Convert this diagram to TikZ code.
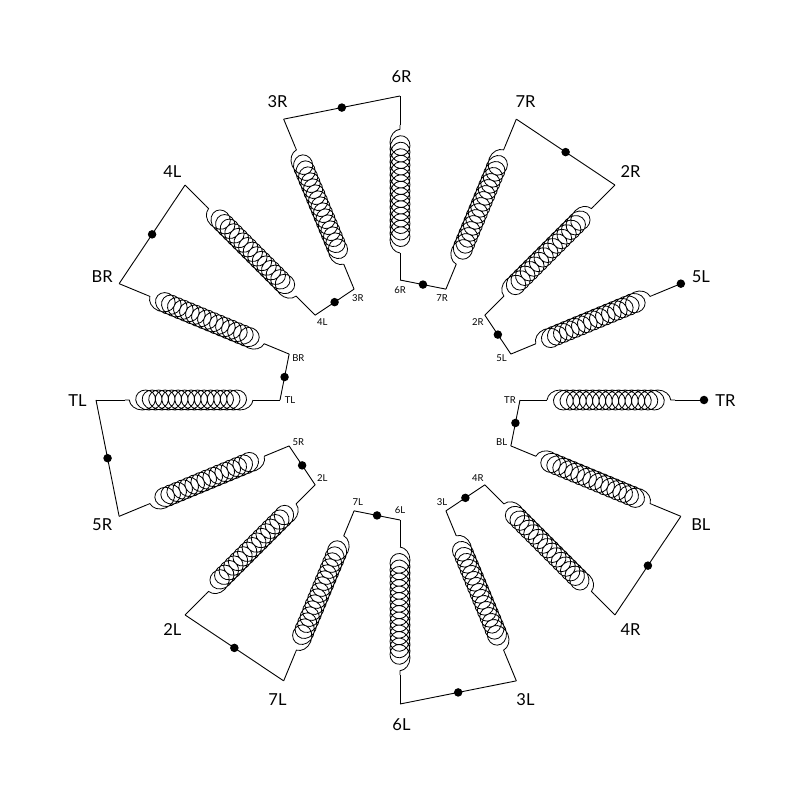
\documentclass[tikz,border=0pt]{standalone}
\usepackage{fontspec}
\setmainfont{Lato}
\usetikzlibrary{decorations.pathmorphing}
\tikzset{
  wire/.style={line width=0.9pt,line join=miter},
  coilwire/.style={line width=0.8pt,decorate,decoration={coil,amplitude=10pt,segment length=6.5pt,aspect=1.15,pre length=0pt,post length=0pt}},
  dotnode/.style={circle,fill=black,inner sep=0pt,minimum size=8.5pt},
  biglabel/.style={font=\fontsize{16.5}{19}\selectfont,inner sep=0pt,xshift=1.5pt,yshift=-0.5pt},
  smalllabel/.style={font=\fontsize{9.5}{10}\selectfont,inner sep=0pt},
}
\begin{document}
\begin{tikzpicture}[x=1pt,y=1pt]
\useasboundingbox (-400,-400) rectangle (400,400);
\foreach \ang/\nm in {0/TR,-22.5/BL,-45/4R,-67.5/3L,-90/6L,-112.5/7L,-135/2L,-157.5/5R,180/TL,157.5/BR,135/4L,112.5/3R,90/6R,67.5/7R,45/2R,22.5/5L}{
  \coordinate (i\nm) at (\ang:120);
  \coordinate (a\nm) at (\ang:147);
  \coordinate (b\nm) at (\ang:275);
  \coordinate (o\nm) at (\ang:304);
  \node[smalllabel] (si\nm) at (\ang:110) {\nm};
  \node[biglabel] (so\nm) at (\ang:324) {\nm};
  \draw[wire] (i\nm) -- (a\nm);
  \draw[coilwire] (a\nm) -- (b\nm);
  \draw[wire] (b\nm) -- (o\nm);
}
\foreach \p/\q in {TR/BL,4R/3L,6L/7L,2L/5R,TL/BR,4L/3R,6R/7R,2R/5L}{
  \draw[wire] (i\p) -- node[dotnode] (d\p) {} (i\q);
}
\foreach \p/\q in {BL/4R,3L/6L,7L/2L,5R/TL,BR/4L,3R/6R,7R/2R}{
  \draw[wire] (o\p) -- node[dotnode] (e\p) {} (o\q);
}
\node[dotnode] (eTR) at (oTR) {};
\node[dotnode] (e5L) at (o5L) {};
\end{tikzpicture}
\end{document}
